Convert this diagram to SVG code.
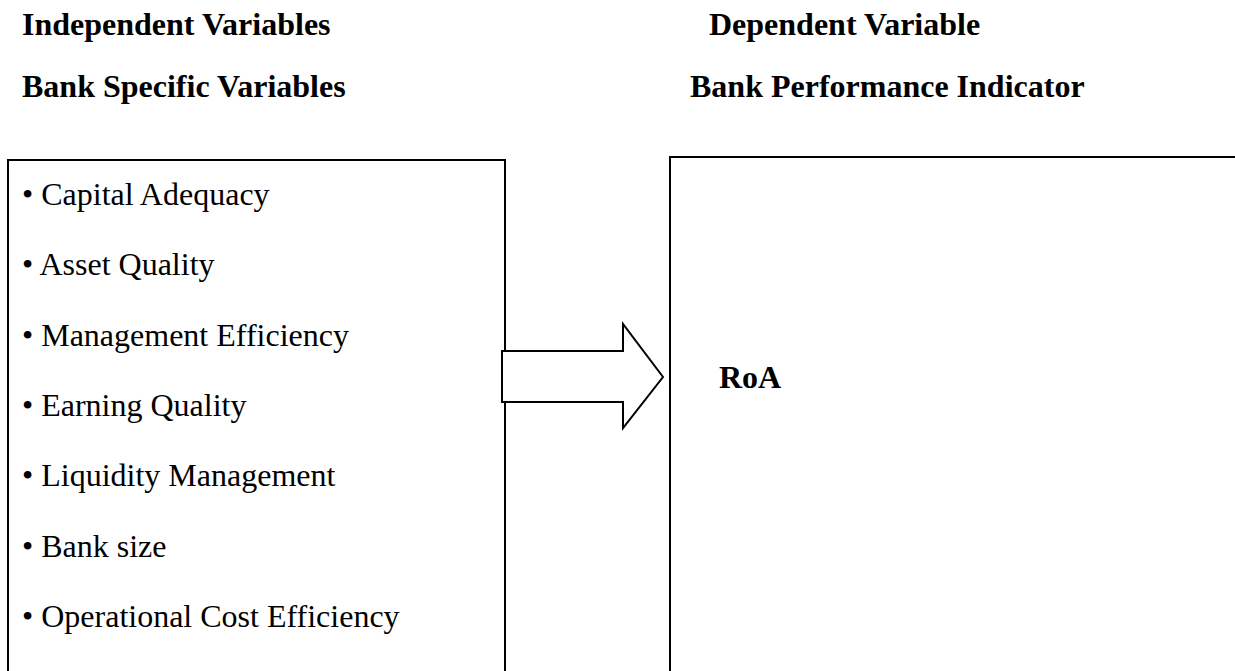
<svg xmlns="http://www.w3.org/2000/svg" width="1235" height="671" viewBox="0 0 1235 671">
<style>
.hd{font-family:"Liberation Serif","Times New Roman",serif;font-weight:bold;font-size:32px;fill:#000}
.it{font-family:"Liberation Serif","Times New Roman",serif;font-size:32px;fill:#000}
.bx{fill:none;stroke:#000;stroke-width:2}
</style>
<rect width="1235" height="671" fill="#fff"/>
<g id="headers">
<text class="hd" x="22" y="35">Independent Variables</text>
<text class="hd" x="22" y="97">Bank Specific Variables</text>
<text class="hd" x="709" y="35">Dependent Variable</text>
<text class="hd" x="690" y="97">Bank Performance Indicator</text>
</g>
<g id="left-box">
<path class="bx" d="M8,680 V160 H505 V680"/>
<text class="it" x="22" y="205">• Capital Adequacy</text>
<text class="it" x="22" y="275.3">• Asset Quality</text>
<text class="it" x="22" y="345.6">• Management Efficiency</text>
<text class="it" x="22" y="416">• Earning Quality</text>
<text class="it" x="22" y="486.3">• Liquidity Management</text>
<text class="it" x="22" y="556.6">• Bank size</text>
<text class="it" x="22" y="627">• Operational Cost Efficiency</text>
</g>
<g id="right-box">
<path class="bx" d="M670,680 V157 H1245"/>
<text class="hd" x="750" y="388" text-anchor="middle">RoA</text>
</g>
<g id="connectors">
<path d="M502,351 H623 V324 L663,377 L623,428 V402 H502 Z" fill="#fff" stroke="#000" stroke-width="2" stroke-linejoin="miter"/>
</g>
</svg>
